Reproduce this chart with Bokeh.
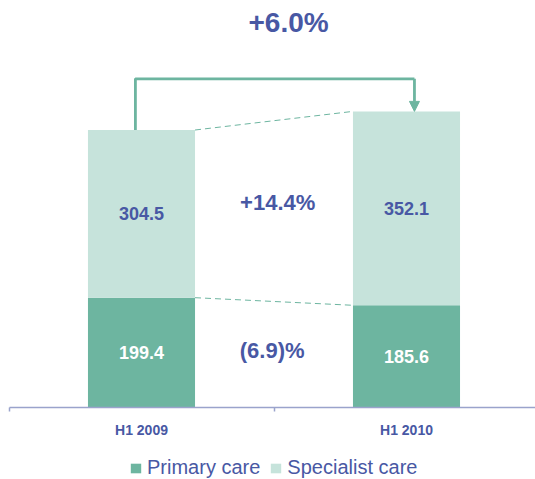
from bokeh.plotting import figure
from bokeh.models import (ColumnDataSource, Range1d, FixedTicker, Legend, LegendItem,
                          Arrow, NormalHead, LinearAxis)
from bokeh.core.properties import value
from bokeh.embed import file_html
from bokeh.resources import INLINE

# ---- data ----
categories = ["H1 2009", "H1 2010"]
primary = [199.4, 185.6]
specialist = [304.5, 352.1]
series_names = ["Primary care", "Specialist care"]
change_total = "+6.0%"
change_specialist = "+14.4%"
change_primary = "(6.9)%"

# ---- style ----
C_PRIM = "#6db5a0"
C_SPEC = "#c6e3db"
C_BLUE = "#4858a4"
C_AXIS = "#9aa3cc"
FONT = "Liberation Sans"

W, H = 535, 479
cat_px = 265.0      # pixels per category
x0_px = 8.5         # pixel position of the first category boundary
axis_px = 407.0     # pixel row of the baseline
ppu = 0.5507        # pixels per value unit
bar_w = 0.404

xs = [i + 0.5 for i in range(len(categories))]
totals = [a + b for a, b in zip(primary, specialist)]

src = ColumnDataSource(dict(x=xs, primary=primary, specialist=specialist))

x_end = (W - x0_px) / cat_px
p = figure(width=W, height=H, output_backend="svg", toolbar_location=None,
           x_range=Range1d(-x0_px / cat_px, x_end),
           y_range=Range1d(-(H - axis_px) / ppu, axis_px / ppu),
           x_axis_location=None, y_axis_location=None,
           min_border_left=0, min_border_right=0, min_border_top=0, min_border_bottom=0)
p.outline_line_color = None
p.xgrid.visible = False
p.ygrid.visible = False

rs = p.vbar_stack(["primary", "specialist"], x="x", width=bar_w, source=src,
                  color=[C_PRIM, C_SPEC], line_color=None)

# value labels
prim_mid = [v / 2 for v in primary]
spec_mid = [a + b / 2 for a, b in zip(primary, specialist)]
p.text(x=xs, y=prim_mid, text=[f"{v:.1f}" for v in primary], text_color="white",
       text_font=value(FONT), text_font_style="bold", text_font_size="18px",
       text_align="center", text_baseline="middle")
p.text(x=xs, y=spec_mid, text=[f"{v:.1f}" for v in specialist], text_color=C_BLUE,
       text_font=value(FONT), text_font_style="bold", text_font_size="18px",
       text_align="center", text_baseline="middle")

# dashed connectors
xr = xs[0] + bar_w / 2
xl = xs[1] - bar_w / 2
p.line(x=[xr, xl], y=[totals[0], totals[1]], line_color=C_PRIM, line_dash="6 4", line_width=1)
p.line(x=[xr, xl], y=[primary[0], primary[1]], line_color=C_PRIM, line_dash="6 4", line_width=1)

# change labels
p.text(x=[1.014], y=[372.8], text=[change_specialist], text_color=C_BLUE,
       text_font=value(FONT), text_font_style="bold", text_font_size="22px",
       text_align="center", text_baseline="middle")
p.text(x=[0.993], y=[103.5], text=[change_primary], text_color=C_BLUE,
       text_font=value(FONT), text_font_style="bold", text_font_size="22px",
       text_align="center", text_baseline="middle")
p.text(x=[1.055], y=[699.1], text=[change_total], text_color=C_BLUE,
       text_font=value(FONT), text_font_style="bold", text_font_size="28px",
       text_align="center", text_baseline="middle")

# bracket arrow
bx0, bx1, by = 0.477, 1.530, 596.9
p.line(x=[bx0, bx0, bx1], y=[totals[0], by, by], line_color=C_PRIM, line_width=2.8)
p.add_layout(Arrow(end=NormalHead(size=10, fill_color=C_PRIM, line_color=C_PRIM, line_width=1),
                   x_start=bx1, y_start=by, x_end=bx1, y_end=totals[1],
                   line_color=C_PRIM, line_width=2.8))

# x axis, drawn at y = 0
ax = LinearAxis(ticker=FixedTicker(ticks=xs, minor_ticks=[0, 1]),
                major_label_overrides={x: c for x, c in zip(xs, categories)},
                fixed_location=0, bounds=(0, x_end))
ax.axis_line_color = C_AXIS
ax.axis_line_width = 1.5
ax.major_tick_out = 0
ax.major_tick_in = 0
ax.minor_tick_out = 4
ax.minor_tick_in = 0
ax.minor_tick_line_color = C_AXIS
ax.minor_tick_line_width = 1.5
ax.major_label_standoff = 10
ax.major_label_text_font = FONT
ax.major_label_text_font_style = "bold"
ax.major_label_text_font_size = "14px"
ax.major_label_text_color = C_BLUE
p.add_layout(ax, "below")

legend = Legend(items=[LegendItem(label=n, renderers=[r]) for n, r in zip(series_names, rs)],
                orientation="horizontal", location=(129, 0))
legend.border_line_color = None
legend.background_fill_alpha = 0
legend.label_text_font = FONT
legend.label_text_font_size = "20px"
legend.label_text_color = C_BLUE
legend.glyph_width = 13
legend.glyph_height = 12
legend.spacing = 9
legend.label_standoff = 5
legend.padding = 0
legend.margin = 0
p.add_layout(legend)

open("out.html", "w").write(file_html(p, INLINE))
